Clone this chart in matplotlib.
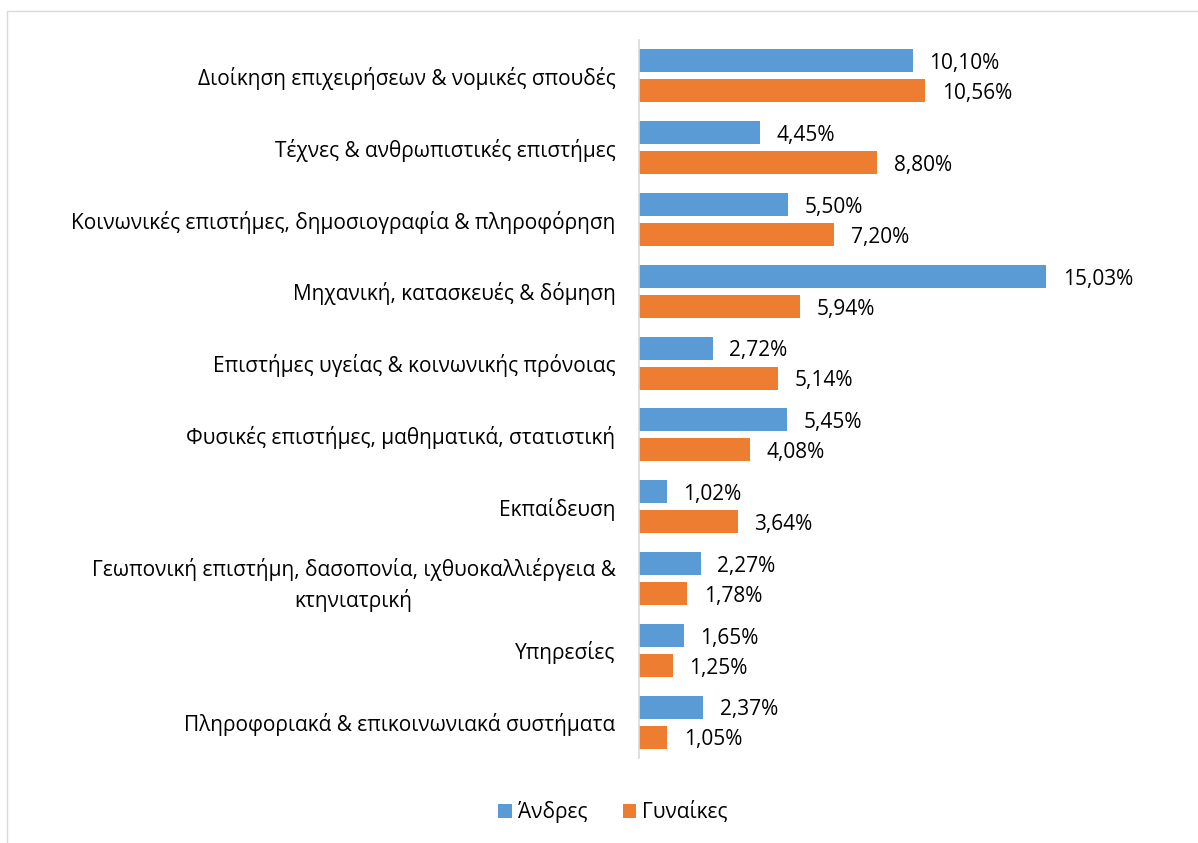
import matplotlib.pyplot as plt
from matplotlib.patches import Rectangle
import numpy as np

plt.rcParams['font.family'] = ['Open Sans', 'DejaVu Sans']

categories = [
    "Διοίκηση επιχειρήσεων & νομικές σπουδές",
    "Τέχνες & ανθρωπιστικές επιστήμες",
    "Κοινωνικές επιστήμες, δημοσιογραφία & πληροφόρηση",
    "Μηχανική, κατασκευές & δόμηση",
    "Επιστήμες υγείας & κοινωνικής πρόνοιας",
    "Φυσικές επιστήμες, μαθηματικά, στατιστική",
    "Εκπαίδευση",
    "Γεωπονική επιστήμη, δασοπονία, ιχθυοκαλλιέργεια &\nκτηνιατρική",
    "Υπηρεσίες",
    "Πληροφοριακά & επικοινωνιακά συστήματα",
]
men = [10.10, 4.45, 5.50, 15.03, 2.72, 5.45, 1.02, 2.27, 1.65, 2.37]
women = [10.56, 8.80, 7.20, 5.94, 5.14, 4.08, 3.64, 1.78, 1.25, 1.05]
series_names = ["Άνδρες", "Γυναίκες"]

blue = "#5B9BD5"
orange = "#ED7D31"
fs = 15

fig = plt.figure(figsize=(11.98, 8.43), dpi=100)
# light chart border
fig.patches.append(Rectangle((7 / 1198, -0.01), 1.2, 1 - 11 / 843 + 0.01,
                             transform=fig.transFigure, fill=False,
                             edgecolor="#D9D9D9", linewidth=1))

ax = fig.add_axes([639 / 1198, 1 - 758 / 843, 542 / 1198, 718 / 843])

y = np.arange(len(categories))
h = 0.32
off = 0.209
b1 = ax.barh(y - off, men, height=h, color=blue, label=series_names[0])
b2 = ax.barh(y + off, women, height=h, color=orange, label=series_names[1])

for bars, vals in [(b1, men), (b2, women)]:
    for bar, v in zip(bars, vals):
        ax.annotate(f"{v:.2f}%".replace(".", ","),
                    (bar.get_width(), bar.get_y() + bar.get_height() / 2),
                    xytext=(12, -2), textcoords="offset points",
                    va="center", ha="left", fontsize=fs, color="#000000")

ax.set_xlim(0, 20)
ax.set_ylim(len(categories) - 0.5, -0.5)
ax.set_yticks(y)
ax.set_yticklabels(categories, fontsize=fs)
for t in ax.get_yticklabels():
    t.set_multialignment("center")
    t.set_linespacing(1.45)
ax.tick_params(axis="y", length=0, pad=17)
ax.set_xticks([])
for s in ["top", "right", "bottom"]:
    ax.spines[s].set_visible(False)
ax.spines["left"].set_color("#D9D9D9")
ax.spines["left"].set_linewidth(1.2)

fig.legend(handles=[b1, b2], labels=series_names, loc="center",
           bbox_to_anchor=(613 / 1198, 1 - 812 / 843), ncol=2, frameon=False,
           fontsize=fs, handlelength=0.65, handleheight=0.65,
           handletextpad=0.3, columnspacing=1.7)

fig.savefig("out.png", dpi=100)
